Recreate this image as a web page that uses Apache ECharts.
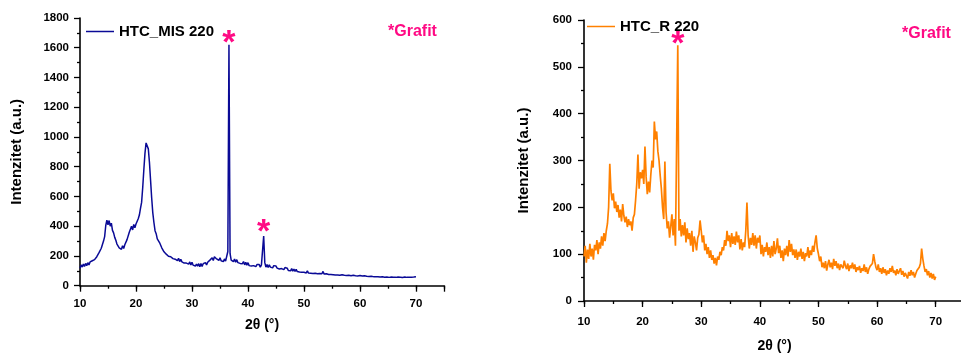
<!DOCTYPE html>
<html>
<head>
<meta charset="utf-8">
<title>XRD HTC_MIS 220 / HTC_R 220</title>
<script src="https://cdn.jsdelivr.net/npm/echarts@6/dist/echarts.min.js"></script>
<style>
  html, body { margin: 0; padding: 0; background: #fff; }
  #chart { width: 961px; height: 355px; }
</style>
</head>
<body>
<div id="chart"></div>
<script>
// Diffractogram scan grid (2θ, degrees)
const scanStart = 10.0;
const scanStep = 0.2;

// HTC_MIS 220 intensities (a.u.), one value per scan step from 10.0° to 70.0°
const mis220 = [
  118,140,125,145,130, 150,135,155,140,160, 148,168,155,175,172, 195,200,222,228,252,
  265,300,330,405,440, 410,438,400,420,372, 355,325,305,280,275, 255,262,245,268,250,
  275,280,310,320,360, 365,400,375,412,390, 415,420,450,475,520, 560,660,780,890,960,
  965,920,830,710,590, 490,425,370,350,315, 318,290,282,255,250, 228,236,212,222,198,
  210,195,200,182,190, 178,190,168,185,162, 178,160,170,152,165, 152,165,145,160,140,
  158,138,150,132,146, 132,148,128,150,130, 148,135,155,140,158, 152,172,165,188,170,
  195,205,180,190,170, 188,168,178,162,180, 165,178,230,1620,215, 172,185,162,180,158,
  175,155,168,150,162, 148,162,140,158,138, 155,135,148,132,145, 135,148,128,142,130,
  142,125,140,150,334, 155,125,142,122,140, 125,138,120,135,122, 132,118,128,112,125,
  115,126,108,122,110, 118,102,114,100,115, 98,112,96,110,95, 108,92,105,90,102,
  90,103,86,100,85, 98,84,96,82,94, 84,95,80,93,82, 92,80,96,78,88,
  80,90,75,88,76, 86,74,85,72,84, 72,84,70,82,74, 80,70,82,68,78,
  70,80,67,78,70, 78,67,76,66,75, 68,78,65,76,67, 75,64,74,62,72,
  63,73,61,71,60, 70,60,72,58,68, 60,70,57,68,58, 68,56,66,58,64,
  57,67,56,65,58, 66,57,64,55,65, 58,66,56,64,57, 66,57,64,58,63,
  60
];

// HTC_R 220 intensities (a.u.), one value per scan step from 10.0° to 70.0°
const r220 = [
  95,118,82,110,90, 122,95,112,88,120, 108,130,100,125,112, 138,118,145,128,150,
  165,200,293,235,215, 230,198,212,190,205, 178,195,170,207,182, 168,180,158,175,162,
  170,150,178,185,215, 250,313,240,275,262, 280,250,330,265,228, 255,232,270,300,285,
  383,345,362,320,300, 268,240,200,175,298, 190,155,170,135,160, 185,140,175,118,115,
  546,150,175,138,162, 140,168,125,155,132, 145,118,150,105,138, 125,108,135,142,172,
  150,125,140,108,122, 100,115,92,108,88, 98,80,92,76,95, 88,105,98,115,108,
  130,118,150,128,140, 115,145,122,138,120, 148,125,140,110,132, 108,125,115,150,210,
  140,112,135,120,145, 118,140,112,135,125, 140,100,120,95,115, 105,125,98,115,92,
  118,95,128,100,112, 134,102,118,92,108, 85,112,98,118,95, 130,105,122,98,110,
  92,110,88,105,95, 112,90,105,85,102, 95,115,92,108,98, 118,105,125,140,112,
  100,85,95,72,82, 70,85,65,78,88, 72,82,68,90,75, 85,70,80,66,78,
  82,70,86,75,68, 80,64,76,70,82, 68,78,62,72,66, 75,60,70,64,78,
  62,72,58,68,74, 70,80,100,85,72, 66,78,62,70,58, 72,60,68,55,65,
  58,70,62,75,60, 65,55,68,58,62, 70,56,64,52,60, 58,48,62,54,66,
  55,62,50,58,65, 68,72,80,112,90, 75,62,68,55,64, 50,60,48,58,45,
  52
];

// Graphite reflections marked with an asterisk (2θ, degrees)
const grafitMis = [36.6, 42.8];
const grafitR = [26.0];

// Axis ranges and tick spacing
const xRange = [10, 75];
const xMajor = 10, xMinor = 5;
const yMisRange = [0, 1800], yMisMajor = 200;
const yRRange = [0, 600], yRMajor = 100;

const seriesNames = ['HTC_MIS 220', 'HTC_R 220'];
const colors = ['#0a0a96', '#ff8000'];
const pink = '#ff0a84';
const font = '"Liberation Sans", Arial, Helvetica, sans-serif';

const toPairs = vals => vals.map((v, i) => [+(scanStart + i * scanStep).toFixed(1), v]);
const misData = toPairs(mis220);
const rData = toPairs(r220);

function peakMarks(pairs, angles, dy) {
  return angles.map((a, k) => {
    const p = pairs.find(d => Math.abs(d[0] - a) < 1e-6);
    return { coord: [p[0], p[1]], label: { offset: [0, dy[k]] } };
  });
}

function xAxes(gridIndex, labelMargin, nameGap) {
  return [
    {
      gridIndex, type: 'value', min: xRange[0], max: xRange[1], interval: xMajor,
      position: 'bottom',
      axisLine: { show: true, onZero: false, lineStyle: { color: '#000', width: 1.6 } },
      axisTick: { show: true, inside: false, length: 6, lineStyle: { color: '#000', width: 1.3 } },
      axisLabel: {
        show: true, margin: labelMargin, color: '#000', fontFamily: font, fontWeight: 'bold', fontSize: 11.5,
        formatter: v => (v % xMajor === 0 ? String(v) : '')
      },
      splitLine: { show: false },
      name: '2θ (°)', nameLocation: 'middle', nameGap,
      nameTextStyle: { color: '#000', fontFamily: font, fontWeight: 'bold', fontSize: 14 }
    },
    {
      gridIndex, type: 'value', min: xRange[0], max: xRange[1], interval: xMinor,
      position: 'bottom',
      axisLine: { show: false, onZero: false },
      axisTick: { show: true, inside: false, length: 3, lineStyle: { color: '#000', width: 1.3 } },
      axisLabel: { show: false },
      splitLine: { show: false }
    }
  ];
}

function yAxis(gridIndex, range, major, labelMargin, nameGap) {
  return {
    gridIndex, type: 'value', min: range[0], max: range[1], interval: major,
    axisLine: { show: true, onZero: false, lineStyle: { color: '#000', width: 1.6 } },
    axisTick: { show: true, inside: false, length: 6, lineStyle: { color: '#000', width: 1.3 } },
    minorTick: { show: true, splitNumber: 2, length: 3, lineStyle: { color: '#000', width: 1.3 } },
    axisLabel: {
      margin: labelMargin, color: '#000', fontFamily: font, fontWeight: 'bold', fontSize: 11.5,
      formatter: v => String(v)
    },
    splitLine: { show: false },
    minorSplitLine: { show: false },
    name: 'Intenzitet (a.u.)', nameLocation: 'middle', nameGap,
    nameTextStyle: { color: '#000', fontFamily: font, fontWeight: 'bold', fontSize: 15 }
  };
}

function legendFor(name, left, top) {
  return {
    data: [name], left, top, orient: 'horizontal',
    icon: 'rect', itemWidth: 28, itemHeight: 1.5, itemGap: 5,
    textStyle: { color: '#000', fontFamily: font, fontWeight: 'bold', fontSize: 15 }
  };
}

const starLabel = {
  show: true, position: 'inside', formatter: '*',
  color: pink, fontFamily: font, fontWeight: 'bold', fontSize: 34
};

const chart = echarts.init(document.getElementById('chart'), null, { renderer: 'canvas' });

chart.setOption({
  animation: false,
  backgroundColor: '#fff',
  grid: [
    { left: 80, top: 18, width: 364, height: 267.7, outerBoundsMode: 'none', containLabel: false },
    { left: 584, top: 20, width: 381, height: 281, outerBoundsMode: 'none', containLabel: false }
  ],
  legend: [
    legendFor(seriesNames[0], 81, 19),
    legendFor(seriesNames[1], 582, 14)
  ],
  xAxis: [...xAxes(0, 12, 32), ...xAxes(1, 15, 38)],
  yAxis: [yAxis(0, yMisRange, yMisMajor, 11, 56), yAxis(1, yRRange, yRMajor, 12, 53)],
  series: [
    {
      name: seriesNames[0], type: 'line', xAxisIndex: 0, yAxisIndex: 0,
      data: misData, showSymbol: false, symbol: 'none', sampling: null,
      lineStyle: { color: colors[0], width: 1.5 }, itemStyle: { color: colors[0] },
      markPoint: {
        symbol: 'circle', symbolSize: 0, silent: true,
        label: starLabel,
        data: peakMarks(misData, grafitMis, [-1, -3])
      }
    },
    {
      name: seriesNames[1], type: 'line', xAxisIndex: 2, yAxisIndex: 1,
      data: rData, showSymbol: false, symbol: 'none', sampling: null,
      lineStyle: { color: colors[1], width: 1.7 }, itemStyle: { color: colors[1] },
      markPoint: {
        symbol: 'circle', symbolSize: 0, silent: true,
        label: starLabel,
        data: peakMarks(rData, grafitR, [-1])
      }
    }
  ],
  graphic: [
    {
      type: 'text', left: 388, top: 24, silent: true,
      style: { text: '*Grafit', fill: pink, font: 'bold 16px ' + font }
    },
    {
      type: 'text', left: 902, top: 26, silent: true,
      style: { text: '*Grafit', fill: pink, font: 'bold 16px ' + font }
    }
  ]
});
</script>
</body>
</html>
